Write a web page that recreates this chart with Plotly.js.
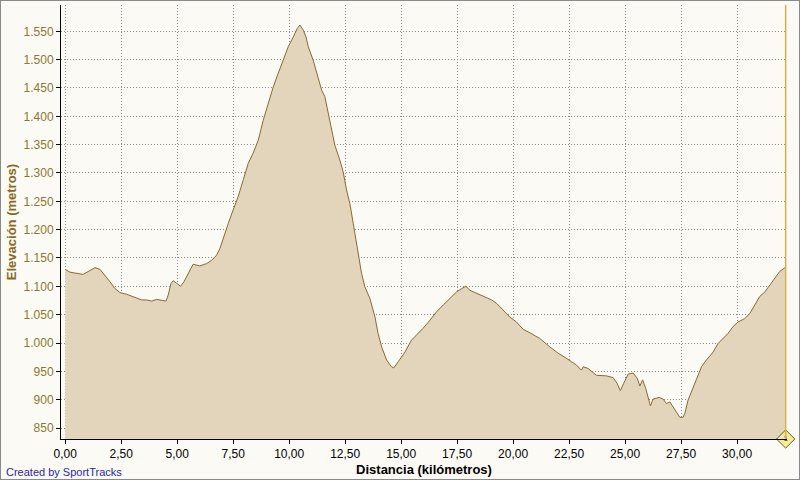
<!DOCTYPE html>
<html>
<head>
<meta charset="utf-8">
<script src="https://cdn.plot.ly/plotly-3.0.1.min.js"></script>
<style>
html,body{margin:0;padding:0;background:#FBFAF5;}
#wrap{position:relative;width:800px;height:480px;}
#chart{width:800px;height:480px;}
#frame{position:absolute;left:0;top:0;width:798px;height:478px;border:1px solid #8a8a8a;pointer-events:none;}
</style>
</head>
<body>
<div id="wrap"><div id="chart"></div><div id="frame"></div></div>
<script>
const distanceKm = [0.00,0.21,0.80,1.18,1.33,1.55,1.77,2.00,2.22,2.44,2.74,2.96,3.19,3.41,3.63,3.86,4.08,4.30,4.50,4.60,4.72,4.82,4.97,5.15,5.30,5.49,5.71,6.01,6.31,6.54,6.76,6.91,7.05,7.28,7.50,7.72,7.95,8.17,8.39,8.62,8.84,9.06,9.29,9.51,9.73,9.96,10.18,10.36,10.48,10.63,10.75,10.85,11.07,11.22,11.45,11.59,11.74,11.89,12.04,12.26,12.41,12.56,12.71,12.86,13.01,13.08,13.23,13.38,13.60,13.83,13.97,14.13,14.35,14.57,14.67,14.87,15.17,15.46,15.69,15.98,16.28,16.58,16.88,17.17,17.47,17.70,17.89,18.07,18.37,18.66,19.04,19.26,19.55,19.85,20.15,20.45,20.75,21.19,21.64,22.01,22.38,22.61,22.83,23.05,23.13,23.35,23.72,24.17,24.46,24.64,24.79,24.94,25.13,25.36,25.54,25.66,25.78,25.92,26.03,26.13,26.25,26.52,26.70,26.85,27.00,27.14,27.29,27.44,27.59,27.67,27.81,28.04,28.26,28.41,28.63,28.93,29.15,29.38,29.60,29.82,30.04,30.34,30.57,30.79,31.01,31.24,31.46,31.68,31.90,32.17];
const elevationM = [1130,1125,1121,1130,1133,1130,1120,1108,1096,1089,1086,1083,1079,1076,1076,1074,1077,1076,1074,1085,1105,1110,1105,1100,1108,1123,1139,1136,1140,1146,1155,1167,1185,1211,1235,1258,1288,1317,1335,1358,1393,1423,1452,1476,1499,1523,1540,1555,1561,1552,1540,1523,1499,1476,1446,1435,1405,1376,1349,1323,1302,1270,1246,1211,1176,1152,1123,1099,1079,1046,1017,993,970,958,956,967,984,1005,1014,1026,1040,1055,1067,1079,1090,1096,1100,1093,1088,1082,1076,1070,1058,1046,1037,1024,1018,1008,993,982,973,967,961,952,958,955,943,942,939,929,916,929,945,947,938,924,935,920,902,889,901,904,901,893,896,887,879,869,869,876,899,923,943,958,970,984,999,1008,1017,1029,1037,1043,1052,1067,1082,1090,1102,1114,1126,1134];
const markerKm = [32.17];
const markerLabel = ["1"];

const xRange = [-0.19, 32.23];
const yRange = [830.6, 1596.4];

const profile = {
  x: distanceKm, y: elevationM, type: 'scatter', mode: 'lines',
  fill: 'tozeroy', fillcolor: '#E3D4BC',
  line: {color: '#8A6A30', width: 1},
  hoverinfo: 'x+y', showlegend: false
};
const marker = {
  x: markerKm, y: [yRange[0]], type: 'scatter', mode: 'markers+text',
  text: markerLabel, textposition: 'middle center',
  textfont: {family: 'Liberation Sans, Arial, sans-serif', size: 8, color: '#3a3000'},
  marker: {symbol: 'diamond', size: 14, color: '#F5EC9E', line: {color: '#6b5a18', width: 1}},
  cliponaxis: false, showlegend: false, hoverinfo: 'skip'
};

const layout = {
  width: 800, height: 480,
  margin: {l: 61, r: 13, t: 5, b: 41},
  paper_bgcolor: '#FBFAF5', plot_bgcolor: '#FBFAF5',
  separators: ',.',
  font: {family: 'Liberation Sans, Arial, sans-serif', size: 12, color: '#000'},
  xaxis: {
    range: xRange, dtick: 2.5, tick0: 0, tickformat: '.2f',
    showgrid: true, gridcolor: '#8a8a8a', griddash: '1px,2px', gridwidth: 1,
    zeroline: false, showline: true, linecolor: '#000', linewidth: 1,
    ticks: 'outside', ticklen: 4, tickcolor: '#000',
    tickfont: {size: 12, color: '#000'},
    title: {text: 'Distancia (kilómetros)', font: {size: 13, color: '#000', weight: 'bold'}, standoff: 4},
    automargin: false
  },
  yaxis: {
    range: yRange, dtick: 50, tick0: 850, tickformat: ',.0f', separatethousands: true,
    showgrid: true, gridcolor: '#8a8a8a', griddash: '1px,2px', gridwidth: 1,
    zeroline: false, showline: true, linecolor: '#000', linewidth: 1,
    ticks: 'outside', ticklen: 4, tickcolor: '#000',
    tickfont: {size: 12, color: '#8C7830'},
    title: {text: 'Elevación (metros)', font: {size: 13, color: '#8A6A1E', weight: 'bold'}, standoff: 4},
    automargin: false
  },
  shapes: [{
    type: 'line', xref: 'x', yref: 'paper', x0: markerKm[0], x1: markerKm[0], y0: 0, y1: 1,
    line: {color: '#D4B050', width: 1.5}, layer: 'above'
  }],
  annotations: [{
    text: 'Created by SportTracks', xref: 'paper', yref: 'paper',
    x: -0.0785, y: -0.076, xanchor: 'left', yanchor: 'middle', showarrow: false,
    font: {size: 11, color: '#2828A8'}
  }]
};

Plotly.newPlot('chart', [profile, marker], layout, {displayModeBar: false, staticPlot: true});
</script>
</body>
</html>
